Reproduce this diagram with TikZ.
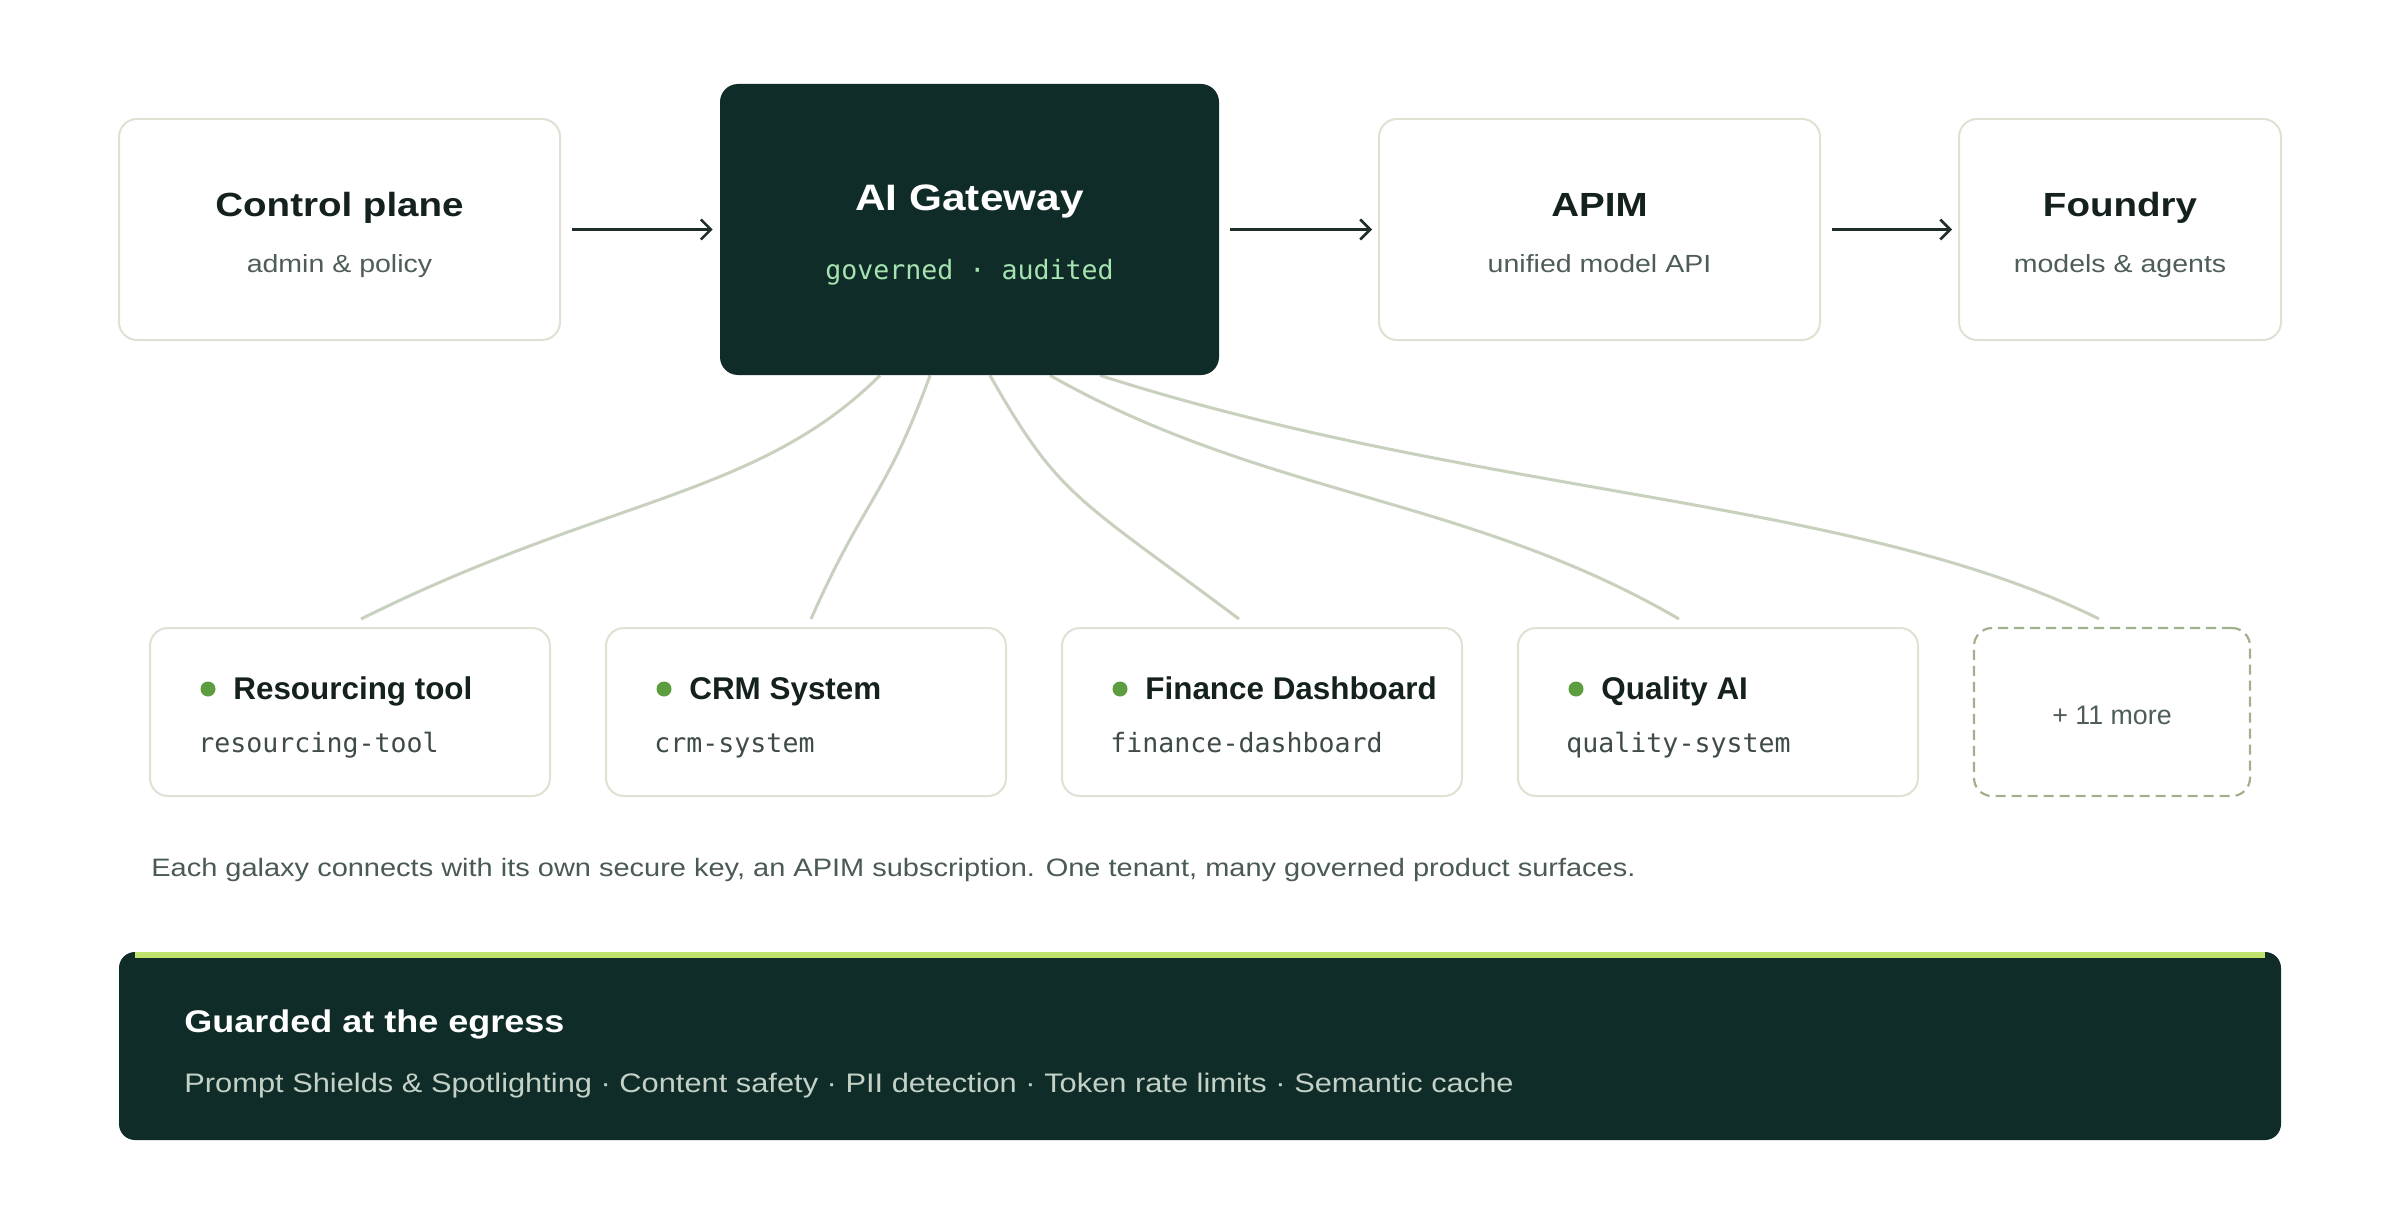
\documentclass[tikz,border=0pt]{standalone}
\usepackage{fontspec}
\setmainfont[FakeStretch=1.15]{Liberation Sans}
\newfontfamily\widef[FakeStretch=1.15]{Liberation Sans}
\newfontfamily\plainf{Liberation Sans}
\newfontfamily\monof{DejaVu Sans Mono}
\usetikzlibrary{arrows.meta,calc}
\definecolor{dark}{HTML}{102C29}
\definecolor{ink}{HTML}{15211F}
\definecolor{subc}{HTML}{4F5D5A}
\definecolor{monoc}{HTML}{3E4B48}
\definecolor{gwmono}{HTML}{A6E3B0}
\definecolor{boxline}{HTML}{E0E1D3}
\definecolor{linkc}{HTML}{C8D0BE}
\definecolor{dashc}{HTML}{A3B08E}
\definecolor{arrowc}{HTML}{1F2E2B}
\definecolor{dotc}{HTML}{5C9E3F}
\definecolor{limec}{HTML}{BEE36E}
\definecolor{bandtext}{HTML}{C3D1C7}
\definecolor{capc}{HTML}{4A5A57}
\newcommand\setfs[1]{\fontsize{#1}{#1}\selectfont}
\pgfdeclarelayer{bg}
\pgfsetlayers{bg,main}
\begin{document}
\begin{tikzpicture}[x=0.5pt,y=-0.5pt,
  box/.style={draw=boxline, line width=1pt, fill=white, rounded corners=9pt, inner sep=0pt},
  gwbox/.style={fill=dark, rounded corners=9pt, inner sep=0pt},
  dashbox/.style={draw=dashc, line width=1.1pt, dash pattern=on 5pt off 3pt, fill=white, rounded corners=9pt, inner sep=0pt},
  arr/.style={draw=arrowc, line width=1.25pt, -{Straight Barb[length=5pt,width=10pt,line width=1.25pt]}},
  link/.style={draw=linkc, line width=1.5pt},
  ttl/.style={anchor=base, inner sep=0pt, text=ink, font=\widef\bfseries\setfs{16.75pt}},
  sub/.style={anchor=base, inner sep=0pt, text=subc, font=\widef\setfs{12.4pt}},
  gwt/.style={anchor=base, inner sep=0pt, text=white, font=\widef\bfseries\setfs{18.4pt}},
  gwm/.style={anchor=base, inner sep=0pt, text=gwmono, font=\monof\setfs{13.3pt}},
  btl/.style={anchor=base west, inner sep=0pt, text=ink, font=\plainf\bfseries\setfs{15.7pt}},
  bmono/.style={anchor=base west, inner sep=0pt, text=monoc, font=\monof\setfs{13.3pt}},
  moretxt/.style={anchor=base, inner sep=0pt, text=subc, font=\plainf\setfs{13.4pt}},
  captxt/.style={anchor=base west, inner sep=0pt, text=capc, font=\widef\setfs{12.6pt}},
  bandt/.style={anchor=base west, inner sep=0pt, text=white, font=\widef\bfseries\setfs{15.65pt}},
  bands/.style={anchor=base west, inner sep=0pt, text=bandtext, font=\widef\setfs{13.4pt}}
]
\useasboundingbox (0,0) rectangle (2400,1220);
\begin{pgfonlayer}{bg}
\fill[white] (0,0) rectangle (2400,1220);
\end{pgfonlayer}

% top row
\node[box, minimum width=220.5pt, minimum height=110.5pt] (cp) at (339.5,229.5) {};
\node[gwbox, minimum width=249.5pt, minimum height=145.5pt] (gw) at (969.5,229.5) {};
\node[box, minimum width=220.5pt, minimum height=110.5pt] (apim) at (1599.5,229.5) {};
\node[box, minimum width=161pt, minimum height=110.5pt] (fd) at (2120,229.5) {};

\node[ttl] (cpT) at (339.5,216) {Control plane};
\node[sub] (cpS) at (339.5,272) {admin \& policy};
\node[gwt] (gwT) at (969.5,210) {AI Gateway};
\node[gwm] (gwM) at (969.5,279) {governed · audited};
\node[ttl] (apimT) at (1599.5,216) {APIM};
\node[sub] (apimS) at (1599.5,272) {unified model API};
\node[ttl] (fdT) at (2120,216) {Foundry};
\node[sub] (fdS) at (2120,272) {models \& agents};

\draw[arr, shorten <=5.5pt, shorten >=3.5pt] (cp.east) -- (gw.west);
\draw[arr, shorten <=5.5pt, shorten >=3pt] (gw.east) -- (apim.west);
\draw[arr, shorten <=5.5pt, shorten >=3pt] (apim.east) -- (fd.west);

% bottom row
\node[box, minimum width=200pt, minimum height=84pt] (b1) at (350,712) {};
\node[box, minimum width=200pt, minimum height=84pt] (b2) at (806,712) {};
\node[box, minimum width=200pt, minimum height=84pt] (b3) at (1262,712) {};
\node[box, minimum width=200pt, minimum height=84pt] (b4) at (1718,712) {};
\node[dashbox, minimum width=138pt, minimum height=84pt] (b5) at (2112,712) {};

\fill[dotc] (208,689) circle (3.75pt);
\node[btl] (b1T) at (233,699) {Resourcing tool};
\node[bmono] (b1M) at (198,752) {resourcing-tool};
\fill[dotc] (664,689) circle (3.75pt);
\node[btl] (b2T) at (689,699) {CRM System};
\node[bmono] (b2M) at (654,752) {crm-system};
\fill[dotc] (1120,689) circle (3.75pt);
\node[btl] (b3T) at (1145,699) {Finance Dashboard};
\node[bmono] (b3M) at (1110,752) {finance-dashboard};
\fill[dotc] (1576,689) circle (3.75pt);
\node[btl] (b4T) at (1601,699) {Quality AI};
\node[bmono] (b4M) at (1566,752) {quality-system};
\node[moretxt] (b5T) at (2112,724) {+ 11 more};

% links
\begin{pgfonlayer}{bg}
\draw[link] ($(gw.south)+(-89.5,0)$) .. controls (758,497) and (606,497) .. ($(b1.north)+(11,-8)$);
\draw[link] ($(gw.south)+(-39.5,0)$) .. controls (886,497) and (865,497) .. ($(b2.north)+(5,-8)$);
\draw[link] ($(gw.south)+(20.5,0)$) .. controls (1059,497) and (1076,497) .. ($(b3.north)+(-23,-8)$);
\draw[link] ($(gw.south)+(80.5,0)$) .. controls (1265,497) and (1470,497) .. ($(b4.north)+(-39,-8)$);
\draw[link] ($(gw.south)+(130.5,0)$) .. controls (1480,497) and (1854,497) .. ($(b5.north)+(-13,-8)$);
\end{pgfonlayer}

% caption
\node[captxt] (caption) at (151,876) {Each galaxy connects with its own secure key, an APIM subscription. One tenant, many governed product surfaces.};

% band
\node[fill=dark, rounded corners=8pt, inner sep=0pt, minimum width=1081pt, minimum height=94pt] (band) at (1200,1046) {};
\fill[limec] ($(band.north west)+(16,0)$) rectangle ($(band.north east)+(-16,6)$);
\node[bandt] (bandT) at (184,1032) {Guarded at the egress};
\node[bands] (bandS) at (184,1092) {Prompt Shields \& Spotlighting · Content safety · PII detection · Token rate limits · Semantic cache};
\end{tikzpicture}
\end{document}
